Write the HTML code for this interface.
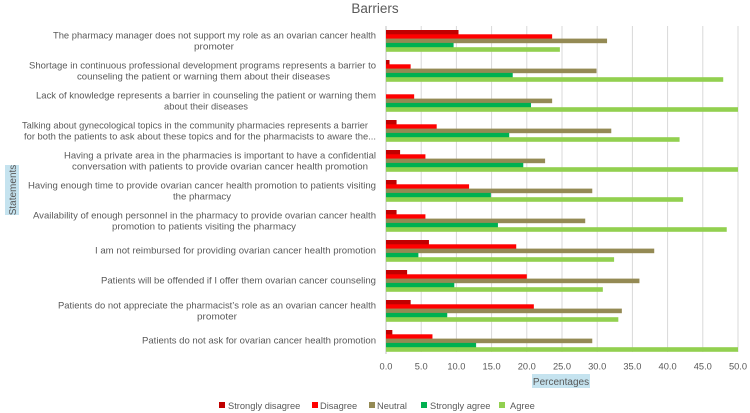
<!DOCTYPE html>
<html><head><meta charset="utf-8"><style>
html,body{margin:0;padding:0;background:#fff;width:750px;height:413px;overflow:hidden}
svg{display:block;font-family:"Liberation Sans",sans-serif}
</style></head><body>
<svg width="750" height="413" viewBox="0 0 750 413" xmlns="http://www.w3.org/2000/svg">
<text x="375" y="13" font-size="13.5" fill="#595959" text-anchor="middle">Barriers</text>
<g stroke="#d9d9d9" stroke-width="1">
<line x1="421.2" y1="26" x2="421.2" y2="352"/><line x1="456.4" y1="26" x2="456.4" y2="352"/><line x1="491.6" y1="26" x2="491.6" y2="352"/><line x1="526.8" y1="26" x2="526.8" y2="352"/><line x1="562" y1="26" x2="562" y2="352"/><line x1="597.2" y1="26" x2="597.2" y2="352"/><line x1="632.4" y1="26" x2="632.4" y2="352"/><line x1="667.6" y1="26" x2="667.6" y2="352"/><line x1="702.8" y1="26" x2="702.8" y2="352"/><line x1="738" y1="26" x2="738" y2="352"/>
<line x1="386" y1="26" x2="386" y2="354" stroke="#bfbfbf"/>
</g>
<g id="bars"></g>
<g font-size="9.3" fill="#595959" id="labels">
<text x="53" y="38.5" textLength="323" lengthAdjust="spacingAndGlyphs">The pharmacy manager does not support my role as an ovarian cancer health</text>
<text x="194" y="49.5" textLength="40" lengthAdjust="spacingAndGlyphs">promoter</text>
<text x="29" y="68.5" textLength="347" lengthAdjust="spacingAndGlyphs">Shortage in continuous professional development programs represents a barrier to</text>
<text x="77" y="79.5" textLength="253" lengthAdjust="spacingAndGlyphs">counseling the patient or warning them about their diseases</text>
<text x="36" y="98.5" textLength="340" lengthAdjust="spacingAndGlyphs">Lack of knowledge represents a barrier in counseling the patient or warning them</text>
<text x="164" y="109.5" textLength="84" lengthAdjust="spacingAndGlyphs">about their diseases</text>
<text x="22" y="128.5" textLength="346" lengthAdjust="spacingAndGlyphs">Talking about gynecological topics in the community pharmacies represents a barrier</text>
<text x="24" y="139.5" textLength="352" lengthAdjust="spacingAndGlyphs">for both the patients to ask about these topics and for the pharmacists to aware the...</text>
<text x="64" y="158.5" textLength="312" lengthAdjust="spacingAndGlyphs">Having a private area in the pharmacies is important to have a confidential</text>
<text x="72" y="169.5" textLength="296" lengthAdjust="spacingAndGlyphs">conversation with patients to provide ovarian cancer health promotion</text>
<text x="28" y="188.5" textLength="348" lengthAdjust="spacingAndGlyphs">Having enough time to provide ovarian cancer health promotion to patients visiting</text>
<text x="173" y="199.5" textLength="58" lengthAdjust="spacingAndGlyphs">the pharmacy</text>
<text x="33" y="218.5" textLength="343" lengthAdjust="spacingAndGlyphs">Availability of enough personnel in the pharmacy to provide ovarian cancer health</text>
<text x="112" y="229.5" textLength="184" lengthAdjust="spacingAndGlyphs">promotion to patients visiting the pharmacy</text>
<text x="95" y="253.5" textLength="281" lengthAdjust="spacingAndGlyphs">I am not reimbursed for providing ovarian cancer health promotion</text>
<text x="101" y="283.5" textLength="275" lengthAdjust="spacingAndGlyphs">Patients will be offended if I offer them ovarian cancer counseling</text>
<text x="58" y="308.5" textLength="318" lengthAdjust="spacingAndGlyphs">Patients do not appreciate the pharmacist’s role as an ovarian cancer health</text>
<text x="197" y="319.5" textLength="40" lengthAdjust="spacingAndGlyphs">promoter</text>
<text x="142" y="343.5" textLength="234" lengthAdjust="spacingAndGlyphs">Patients do not ask for ovarian cancer health promotion</text>
</g>
<g font-size="9.3" fill="#595959" text-anchor="middle">
<text x="386" y="369.5">0.0</text><text x="421.2" y="369.5">5.0</text><text x="456.4" y="369.5">10.0</text><text x="491.6" y="369.5">15.0</text><text x="526.8" y="369.5">20.0</text><text x="562" y="369.5">25.0</text><text x="597.2" y="369.5">30.0</text><text x="632.4" y="369.5">35.0</text><text x="667.6" y="369.5">40.0</text><text x="702.8" y="369.5">45.0</text><text x="738" y="369.5">50.0</text>
</g>
<rect x="532" y="374" width="58" height="14" fill="#c5e3ef"/>
<text x="561" y="385" font-size="10" fill="#595959" text-anchor="middle">Percentages</text>
<rect x="5" y="165" width="14" height="50" fill="#c5e3ef"/>
<text transform="translate(16,190) rotate(-90)" font-size="10" fill="#595959" text-anchor="middle">Statements</text>
<g font-size="9.3" fill="#595959">
<rect x="219" y="402" width="6" height="6" fill="#c00000"/><text x="228" y="409">Strongly disagree</text>
<rect x="312" y="402" width="6" height="6" fill="#ff0000"/><text x="320" y="409">Disagree</text>
<rect x="369" y="402" width="6" height="6" fill="#948a54"/><text x="377" y="409">Neutral</text>
<rect x="421" y="402" width="6" height="6" fill="#00b050"/><text x="430" y="409">Strongly agree</text>
<rect x="499" y="402" width="6" height="6" fill="#92d050"/><text x="510" y="409">Agree</text>
</g>
</svg>
<script>
var d=[[10.3,23.6,31.4,9.6,24.7],[0.5,3.5,29.9,18.0,47.9],[0,4.0,23.6,20.6,50],[1.5,7.2,32.0,17.5,41.7],[2.0,5.6,22.6,19.5,50],[1.5,11.8,29.3,14.9,42.2],[1.5,5.6,28.3,15.9,48.4],[6.1,18.5,38.1,4.6,32.4],[3.0,20.0,36.0,9.7,30.8],[3.5,21.0,33.5,8.7,33.0],[0.9,6.6,29.3,12.8,50]];
var c=["#c00000","#ff0000","#948a54","#00b050","#92d050"];
var g=document.getElementById("bars"),s="";
for(var i=0;i<d.length;i++)for(var j=0;j<5;j++){var v=d[i][j];if(v<=0)continue;
s+='<rect x="386" y="'+(30+i*30+j*4.3)+'" width="'+(v*7.04)+'" height="4.6" fill="'+c[j]+'"/>';}
g.innerHTML=s;
</script>
</body></html>
